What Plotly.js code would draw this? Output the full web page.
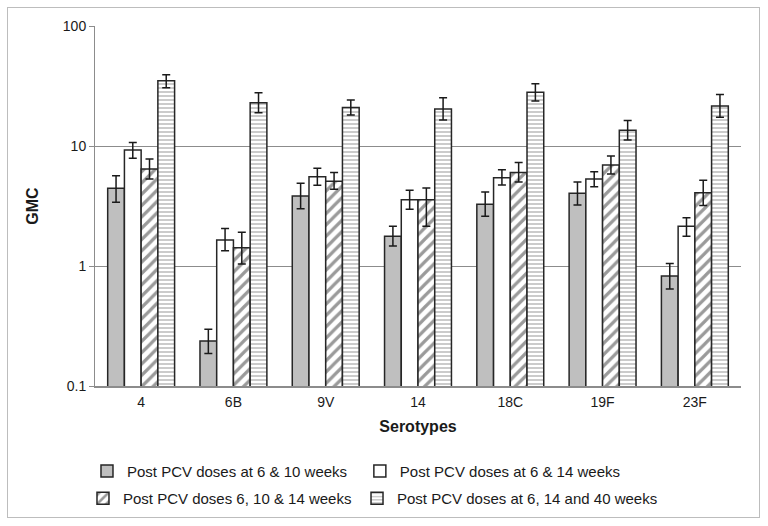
<!DOCTYPE html>
<html>
<head>
<meta charset="utf-8">
<script src="https://cdn.plot.ly/plotly-3.0.1.min.js"></script>
<style>
  html, body { margin: 0; padding: 0; background: #fff; }
  #wrap { position: relative; width: 768px; height: 526px; }
  #chart { width: 768px; height: 526px; }
  #frame { position: absolute; left: 7px; top: 7px; width: 751px; height: 509px; border: 1px solid #bdbdbd; pointer-events: none; }
</style>
</head>
<body>
<div id="wrap">
  <div id="chart"></div>
  <div id="frame"></div>
</div>
<script>
const serotypes = ["4", "6B", "9V", "14", "18C", "19F", "23F"];

const names = [
  "Post PCV doses at 6 & 10 weeks",
  "Post PCV doses at 6 & 14 weeks",
  "Post PCV doses 6, 10 & 14 weeks",
  "Post PCV doses at 6, 14 and 40 weeks"
];

// GMC values
const gmc610   = [4.44, 0.237, 3.83, 1.77, 3.27, 4.04, 0.825];
const gmc614   = [9.26, 1.65, 5.55, 3.57, 5.44, 5.31, 2.14];
const gmc61014 = [6.43, 1.42, 5.08, 3.57, 6.00, 6.95, 4.08];
const gmc61440 = [35.0, 22.9, 20.9, 20.3, 28.0, 13.5, 21.5];

// upper / lower confidence limits
const up610   = [5.65, 0.297, 4.89, 2.14, 4.14, 5.00, 1.05];
const lo610   = [3.40, 0.187, 3.00, 1.47, 2.60, 3.22, 0.643];
const up614   = [10.7, 2.05, 6.52, 4.27, 6.35, 6.10, 2.53];
const lo614   = [7.90, 1.34, 4.70, 2.97, 4.73, 4.58, 1.77];
const up61014 = [7.80, 1.91, 6.00, 4.47, 7.30, 8.25, 5.18];
const lo61014 = [5.30, 1.04, 4.36, 2.14, 5.00, 5.84, 3.20];
const up61440 = [39.3, 27.8, 24.2, 25.3, 33.0, 16.3, 26.8];
const lo61440 = [30.6, 18.9, 18.1, 16.5, 23.7, 11.2, 17.4];

function errs(vals, up, lo) {
  return {
    type: "data", symmetric: false,
    array: vals.map((v, i) => up[i] - v),
    arrayminus: vals.map((v, i) => v - lo[i]),
    color: "#1a1a1a", thickness: 1.5, width: 4
  };
}

const lineStyle = { color: "#262626", width: 1.5 };

const traces = [
  { type: "bar", name: names[0], x: serotypes, y: gmc610, legend: "legend",
    marker: { color: "#bfbfbf", line: lineStyle }, error_y: errs(gmc610, up610, lo610) },
  { type: "bar", name: names[1], x: serotypes, y: gmc614, legend: "legend2",
    marker: { color: "#ffffff", line: lineStyle }, error_y: errs(gmc614, up614, lo614) },
  { type: "bar", name: names[2], x: serotypes, y: gmc61014, legend: "legend3",
    marker: { color: "#ffffff", line: lineStyle,
      pattern: { shape: "/", fgcolor: "#9a9a9a", bgcolor: "#ffffff", size: 8, solidity: 0.4 } },
    error_y: errs(gmc61014, up61014, lo61014) },
  { type: "bar", name: names[3], x: serotypes, y: gmc61440, legend: "legend4",
    marker: { color: "#ffffff", line: lineStyle,
      pattern: { shape: "-", fgcolor: "#b5b5b5", bgcolor: "#ffffff", size: 4, solidity: 0.35 } },
    error_y: errs(gmc61440, up61440, lo61440) }
];

const fontFam = "Liberation Sans, Arial, sans-serif";

function leg(x, y) {
  return {
    orientation: "v", x: x, xanchor: "left", y: y, yanchor: "top",
    font: { size: 15, color: "#1a1a1a" }, bgcolor: "rgba(0,0,0,0)", itemwidth: 30
  };
}

const layout = {
  width: 768, height: 526,
  margin: { l: 95, r: 27, t: 26, b: 139 },
  paper_bgcolor: "#ffffff", plot_bgcolor: "#ffffff",
  font: { family: fontFam, size: 14, color: "#1a1a1a" },
  barmode: "group", bargap: 0.275, bargroupgap: 0,
  showlegend: true,
  xaxis: {
    type: "category",
    showline: true, linecolor: "#8c8c8c", linewidth: 2,
    ticks: "", tickfont: { size: 14, color: "#1a1a1a" },
    ticklabelstandoff: 2,
    title: { text: "<b>Serotypes</b>", font: { size: 16, color: "#1a1a1a" }, standoff: 12 }
  },
  yaxis: {
    type: "log", range: [-1, 2],
    tickvals: [0.1, 1, 10, 100], ticktext: ["0.1", "1", "10", "100"],
    showgrid: true, gridcolor: "#8c8c8c", gridwidth: 1,
    showline: true, linecolor: "#8c8c8c", linewidth: 1,
    ticks: "outside", ticklen: 5, tickcolor: "#8c8c8c",
    zeroline: false,
    tickfont: { size: 14, color: "#1a1a1a" },
    title: { text: "<b>GMC</b>", font: { size: 16, color: "#1a1a1a" }, standoff: 20 }
  },
  legend:  leg(-0.0124, -0.188),
  legend2: leg(0.410, -0.188),
  legend3: leg(-0.0186, -0.263),
  legend4: leg(0.4056, -0.263)
};

Plotly.newPlot("chart", traces, layout, { displayModeBar: false, staticPlot: true });
</script>
</body>
</html>
